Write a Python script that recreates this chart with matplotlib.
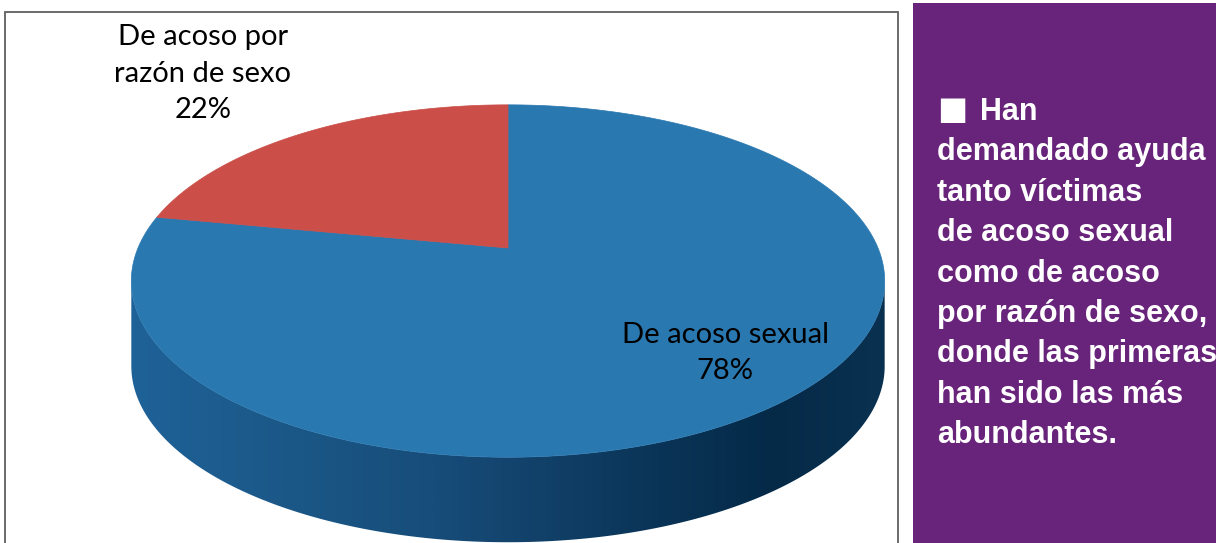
import matplotlib
matplotlib.use('Agg')
import matplotlib.pyplot as plt  # noqa: E402
import numpy as np  # noqa: E402
from matplotlib.colors import LinearSegmentedColormap  # noqa: E402
from matplotlib.patches import Polygon, Rectangle  # noqa: E402

# ------------------------------------------------------------------
# Data
# ------------------------------------------------------------------
categories = ["De acoso sexual", "De acoso por\nrazón de sexo"]
values = [78, 22]
top_colors = ["#2A78B0", "#CB4E48"]

panel_lines = [
    "Han",
    "demandado ayuda",
    "tanto víctimas",
    "de acoso sexual",
    "como de acoso",
    "por razón de sexo,",
    "donde las primeras",
    "han sido las más",
    "abundantes.",
]

# ------------------------------------------------------------------
# Canvas in pixel coordinates
# ------------------------------------------------------------------
W, H = 1216, 543
fig = plt.figure(figsize=(W / 100, H / 100), dpi=100)
ax = fig.add_axes([0, 0, 1, 1])
ax.set_xlim(0, W)
ax.set_ylim(H, 0)
ax.axis('off')

# chart frame + purple side panel
ax.add_patch(Rectangle((5, 12), 893, 600, facecolor='white', edgecolor='#5f5f5f',
                       linewidth=1.3, zorder=0))
ax.add_patch(Rectangle((913, 3), 320, 600, facecolor='#68237B', edgecolor='none', zorder=0))

# ------------------------------------------------------------------
# 3D pie with a bit of perspective
# ------------------------------------------------------------------
cx, cy = 508, 248
rx, ry = 370, 170
k = 0.1875      # perspective strength
depth = 85      # side thickness (px)


def project(t, dy=0.0):
    u, v = np.cos(t), np.sin(t)
    d = 1 + k * v
    return cx + rx * u / d, cy - ry * v / d + dy


# side band (front half between the two vertical tangents)
t_left = np.pi + np.arcsin(k)
t_right = 2 * np.pi - np.arcsin(k)
ts = np.linspace(t_left, t_right, 300)
tx, ty = project(ts)
bx, by = project(ts[::-1], depth)
side = Polygon(np.column_stack([np.r_[tx, bx], np.r_[ty, by]]), closed=True,
               facecolor='none', edgecolor='none')
ax.add_patch(side)

side_cmap = LinearSegmentedColormap.from_list('side', [
    (0.0, '#1F6298'), (0.2, '#1B5888'), (0.4, '#174D7A'), (0.55, '#114068'),
    (0.7, '#0A3457'), (0.85, '#052A48'), (1.0, '#0A3150')])
grad = np.linspace(0, 1, 512)[None, :]
img = ax.imshow(grad, cmap=side_cmap, extent=[tx.min(), tx.max(), H + 5, 240],
                aspect='auto', zorder=1, interpolation='bilinear')
img.set_clip_path(side)
ax.set_xlim(0, W)
ax.set_ylim(H, 0)

# top faces: first slice starts at 12 o'clock, clockwise
total = float(sum(values))
start = 90.0
for val, col in zip(values, top_colors):
    sweep = 360.0 * val / total
    arc = np.radians(np.linspace(start, start - sweep, 400))
    ax_, ay_ = project(arc)
    pts = np.column_stack([np.r_[cx, ax_], np.r_[cy, ay_]])
    ax.add_patch(Polygon(pts, closed=True, facecolor=col, edgecolor=col,
                         linewidth=0.5, zorder=2))
    start -= sweep

# data labels
label_pos = [(725, 353), (203, 74)]
for cat, val, (lx, ly) in zip(categories, values, label_pos):
    pct = round(100 * val / total)
    ax.text(lx, ly, f"{cat}\n{pct}%", ha='center', va='center', ma='center',
            fontsize=21, family='Lato', color='black', linespacing=1.5, zorder=3)

# ------------------------------------------------------------------
# Side panel text
# ------------------------------------------------------------------
ax.text(937, 119, "■", ha='left', va='baseline', color='white',
        fontsize=23, family='DejaVu Sans', zorder=3)
for i, line in enumerate(panel_lines):
    x0 = 980 if i == 0 else 937
    ax.text(x0, 120 + 40.4 * i, line, ha='left', va='baseline', color='white',
            fontsize=22, fontweight='bold', family=['Liberation Sans', 'DejaVu Sans'],
            zorder=3)

fig.savefig('out.png', dpi=100)
plt.close(fig)
